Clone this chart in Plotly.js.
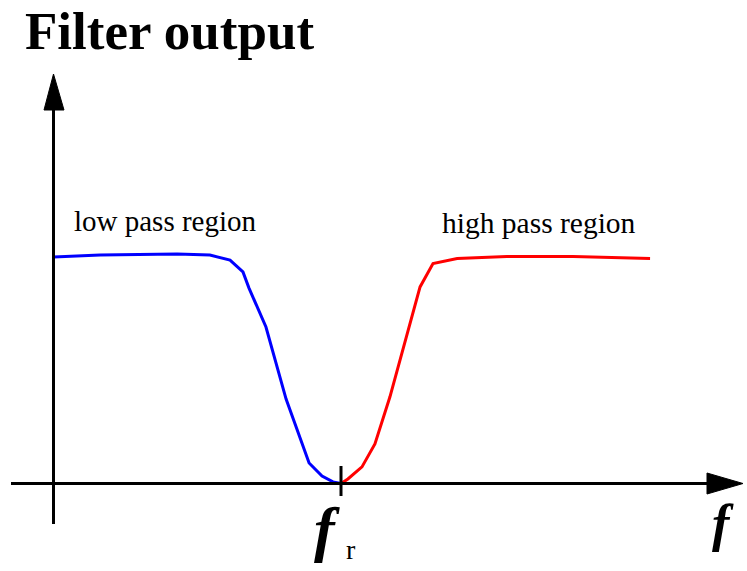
<!DOCTYPE html>
<html>
<head>
<meta charset="utf-8">
<script src="https://cdn.plot.ly/plotly-3.0.1.min.js"></script>
<style>
  html, body { margin: 0; padding: 0; background: #fff; }
  #myplot { width: 747px; height: 571px; }
</style>
</head>
<body>
<div id="myplot"></div>
<script>
// frequency axis in units of f_r, output normalised to the pass level
let f_bas = [0, 0.162, 0.430, 0.544, 0.614, 0.659, 0.680, 0.739, 0.809, 0.889, 0.934, 0.972, 1.0];
let sortie_bas = [0.996, 1.004, 1.009, 1.004, 0.982, 0.930, 0.859, 0.688, 0.371, 0.090, 0.033, 0.007, 0.0];

let f_haut = [1.0, 1.024, 1.073, 1.118, 1.170, 1.275, 1.320, 1.404, 1.577, 1.807, 2.075];
let sortie_haut = [0.0, 0.020, 0.073, 0.174, 0.380, 0.864, 0.967, 0.989, 0.998, 0.998, 0.989];

let f_r = 1.0;

// pixel <-> data helpers (plot fills the whole page)
let W = 747, H = 571;
let x0 = 53.5, y0 = 483.5, sx = 287.5, sy = 227.5;
function dx(px) { return (px - x0) / sx; }
function dy(py) { return (y0 - py) / sy; }
function px(p) { return p / W; }
function py(p) { return 1 - p / H; }

function dessiner() {
  let data = [
    {
      x: f_bas, y: sortie_bas,
      mode: 'lines', type: 'scatter',
      line: { color: '#0000ff', width: 3 },
      hoverinfo: 'skip'
    },
    {
      x: f_haut, y: sortie_haut,
      mode: 'lines', type: 'scatter',
      line: { color: '#ff0000', width: 3 },
      hoverinfo: 'skip'
    }
  ];

  let noir = { color: '#000', width: 3 };
  let shapes = [
    // x axis + arrow
    { type: 'line', x0: dx(11), x1: dx(712), y0: 0, y1: 0, line: noir },
    { type: 'path', path: 'M ' + dx(707) + ' ' + dy(473) + ' L ' + dx(743) + ' 0 L ' + dx(707) + ' ' + dy(494) + ' Z',
      fillcolor: '#000', line: { color: '#000', width: 1 } },
    // y axis + arrow
    { type: 'line', x0: 0, x1: 0, y0: dy(524), y1: dy(106), line: noir },
    { type: 'path', path: 'M ' + dx(44) + ' ' + dy(110) + ' L 0 ' + dy(74) + ' L ' + dx(64) + ' ' + dy(110) + ' Z',
      fillcolor: '#000', line: { color: '#000', width: 1 } },
    // tick at f_r
    { type: 'line', x0: f_r, x1: f_r, y0: dy(466), y1: dy(496), line: noir }
  ];

  let serif = 'Liberation Serif, Times New Roman, serif';
  let annotations = [
    { text: '<b>Filter output</b>', xref: 'paper', yref: 'paper', x: px(23), y: py(31),
      xanchor: 'left', yanchor: 'middle', showarrow: false,
      font: { family: serif, size: 53, color: '#000' } },
    { text: 'low pass region', xref: 'paper', yref: 'paper', x: px(72), y: py(221),
      xanchor: 'left', yanchor: 'middle', showarrow: false,
      font: { family: serif, size: 29, color: '#000' } },
    { text: 'high pass region', xref: 'paper', yref: 'paper', x: px(440), y: py(223),
      xanchor: 'left', yanchor: 'middle', showarrow: false,
      font: { family: serif, size: 29.5, color: '#000' } },
    { text: '<b><i>f</i></b>', xref: 'paper', yref: 'paper', x: px(327), y: py(529),
      xanchor: 'center', yanchor: 'middle', showarrow: false,
      font: { family: serif, size: 62, color: '#000' } },
    { text: 'r', xref: 'paper', yref: 'paper', x: px(344), y: py(549),
      xanchor: 'left', yanchor: 'middle', showarrow: false,
      font: { family: serif, size: 28, color: '#000' } },
    { text: '<b><i>f</i></b>', xref: 'paper', yref: 'paper', x: px(723), y: py(523),
      xanchor: 'center', yanchor: 'middle', showarrow: false,
      font: { family: serif, size: 52, color: '#000' } }
  ];

  let forme = {
    width: W, height: H,
    margin: { l: 0, r: 0, t: 0, b: 0 },
    paper_bgcolor: '#fff', plot_bgcolor: '#fff',
    showlegend: false,
    font: { family: serif, color: '#000' },
    xaxis: { range: [dx(0), dx(W)], visible: false, fixedrange: true },
    yaxis: { range: [dy(H), dy(0)], visible: false, fixedrange: true },
    shapes: shapes,
    annotations: annotations
  };

  Plotly.newPlot('myplot', data, forme, { staticPlot: true, displayModeBar: false });
}

dessiner();
</script>
</body>
</html>
